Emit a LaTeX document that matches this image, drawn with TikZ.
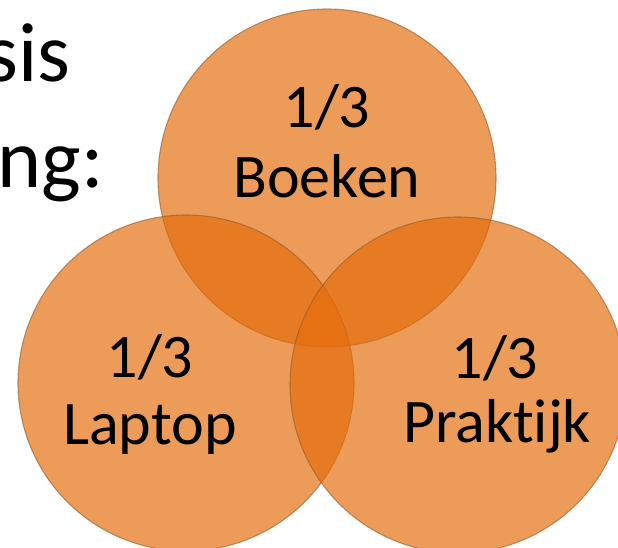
\documentclass[tikz,border=0pt]{standalone}
\usepackage{fontspec}
\setmainfont[Ligatures={NoCommon}]{Carlito}
\definecolor{vennorange}{RGB}{228,108,10}
\definecolor{vennedge}{RGB}{150,90,45}
\tikzset{
	venn/.style={circle, minimum size=336pt, inner sep=0pt, fill=vennorange,
		fill opacity=0.68, draw=vennedge, draw opacity=0.6, line width=1.1pt},
	share/.style={anchor=base, inner sep=0pt, font=\fontsize{62}{68}\selectfont},
	slide/.style={anchor=base east, inner sep=0pt, font=\fontsize{84}{100}\selectfont}
}

\begin{document}
\begin{tikzpicture}[x=1pt, y=-1pt]
	\useasboundingbox (0,0) rectangle (618,548);
	\clip (0,0) rectangle (618,548);
	
	% slide text, cut off at the left
	\node[slide] (regel1) at (71,82) {sis};
	\node[slide] (regel2) at (104,188) {ng:};
	
	% the three circles
	\node[venn, minimum size=338pt] (boeken) at (327,178) {};
	\node[venn] (laptop) at (186,383) {};
	\node[venn] (praktijk) at (458,385) {};
	
	% labels
	\node[share] (boekendeel) at (327,128) {1/3};
	\node[share] (boekennaam) at (327,197) {Boeken};
	\node[share] (laptopdeel) at (150,377) {1/3};
	\node[share] (laptopnaam) at (150,444) {Laptop};
	\node[share] (praktijkdeel) at (495,378) {1/3};
	\node[share] (praktijknaam) at (497,442) {Praktijk};
\end{tikzpicture}
\end{document}
